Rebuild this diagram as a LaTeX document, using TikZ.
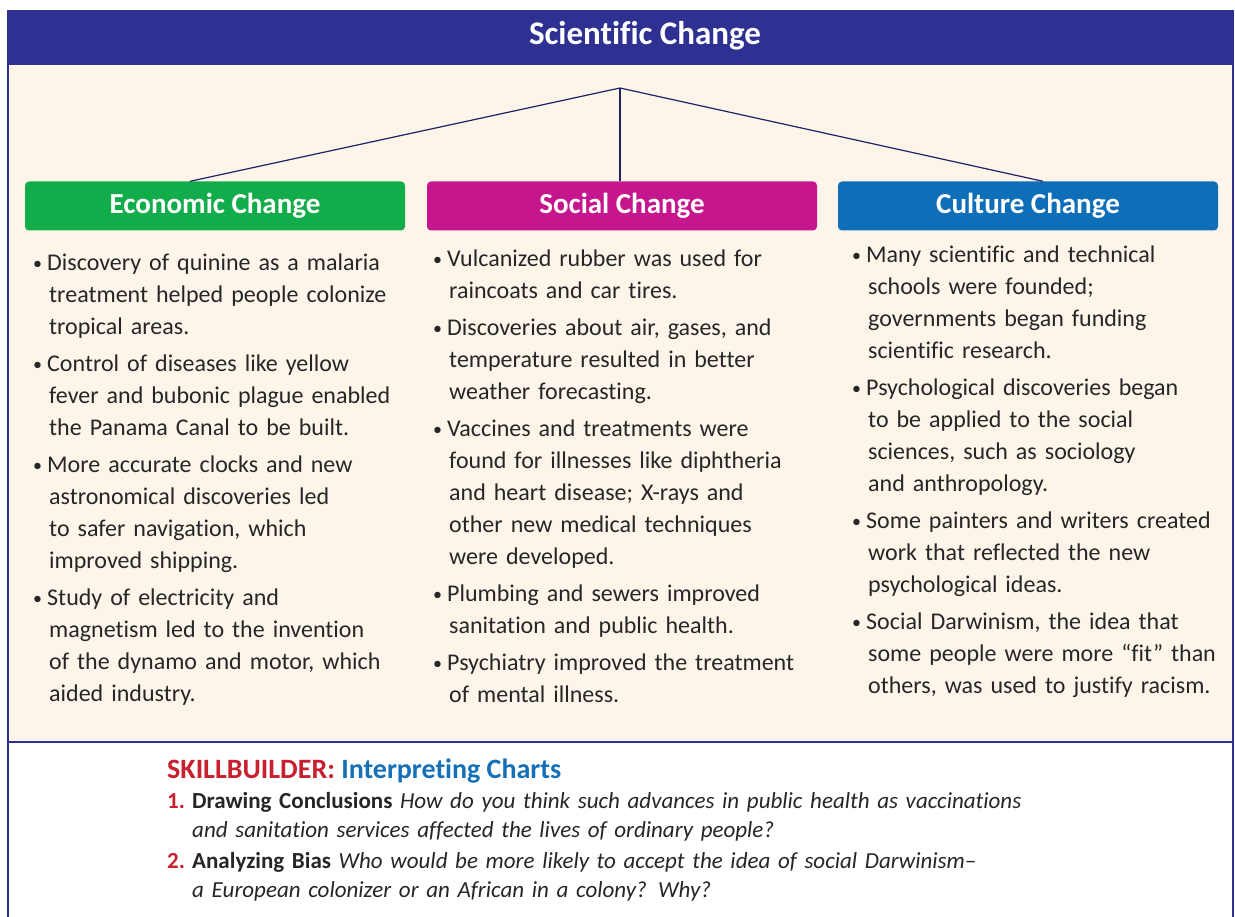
\documentclass[tikz,border=0pt]{standalone}
\usepackage{fontspec}
\setmainfont{Carlito}[Ligatures=NoCommon]
\usepackage{xcolor}
\usetikzlibrary{positioning, calc}
\definecolor{titleblue}{RGB}{46, 49, 146}
\definecolor{creampanel}{RGB}{253, 245, 234}
\definecolor{econgreen}{RGB}{18, 173, 74}
\definecolor{socialpink}{RGB}{198, 22, 141}
\definecolor{cultureblue}{RGB}{15, 110, 184}
\definecolor{skillred}{RGB}{200, 32, 47}
\definecolor{skillblue}{RGB}{21, 112, 184}
\newcommand{\bitem}[1]{\par\hangindent=16pt\hangafter=1\noindent
    \makebox[14pt][l]{\raisebox{1pt}{\scalebox{0.75}{\textbullet}}}#1}

\begin{document}
\begin{tikzpicture}[x=1pt, y=-1pt,
    header/.style={rounded corners=4pt, minimum height=49pt,
        text=white, font=\fontsize{29}{32}\selectfont\bfseries, inner sep=0pt},
    column/.style={anchor=north west, text width=390pt, inner sep=0pt,
        font=\fontsize{24}{32}\selectfont, text=black!85},
    link/.style={draw=titleblue!70!black, line width=1.2pt}]
    % Page and panels
    \useasboundingbox (0,0) rectangle (1235,917);
    \fill[white] (0,0) rectangle (1235,917);
    \fill[creampanel] (8,65) rectangle (1233,742);
    \fill[titleblue] (8,10) rectangle (1233,65);
    \draw[titleblue, line width=2pt] (8,10) -- (8,917);
    \draw[titleblue, line width=2pt] (1233,10) -- (1233,917);
    \draw[titleblue, line width=2pt] (8,742) -- (1233,742);
    \node[text=white, font=\fontsize{33}{36}\selectfont\bfseries] (title) at (645,36) {Scientific Change};

    % The three headers
    \coordinate (hub) at (620,88);
    \node[header, fill=econgreen, minimum width=380pt] (econ) at (215,206) {Economic Change};
    \node[header, fill=socialpink, minimum width=390pt] (social) at (622,206) {Social Change};
    \node[header, fill=cultureblue, minimum width=380pt] (culture) at (1028,206) {Culture Change};
    \draw[link] (hub) -- ($(econ.north)+(-25,0)$);
    \draw[link] (hub) -- ($(social.north)+(-2,0)$);
    \draw[link] (hub) -- ($(culture.north)+(15,0)$);

    % The bullet lists
    \node[column] (econlist) at (33,233) {\raggedright
        \parskip=5pt
        \bitem{Discovery of quinine as a malaria\newline treatment helped people colonize\newline tropical areas.}
        \bitem{Control of diseases like yellow\newline fever and bubonic plague enabled\newline the Panama Canal to be built.}
        \bitem{More accurate clocks and new\newline astronomical discoveries led\newline to safer navigation, which\newline improved shipping.}
        \bitem{Study of electricity and\newline magnetism led to the invention\newline of the dynamo and motor, which\newline aided industry.}\par};
    \node[column] (sociallist) at (433,229) {\raggedright
        \parskip=5pt
        \bitem{Vulcanized rubber was used for\newline raincoats and car tires.}
        \bitem{Discoveries about air, gases, and\newline temperature resulted in better\newline weather forecasting.}
        \bitem{Vaccines and treatments were\newline found for illnesses like diphtheria\newline and heart disease; X-rays and\newline other new medical techniques\newline were developed.}
        \bitem{Plumbing and sewers improved\newline sanitation and public health.}
        \bitem{Psychiatry improved the treatment\newline of mental illness.}\par};
    \node[column] (culturelist) at (852,225) {\raggedright
        \parskip=5pt
        \bitem{Many scientific and technical\newline schools were founded;\newline governments began funding\newline scientific research.}
        \bitem{Psychological discoveries began\newline to be applied to the social\newline sciences, such as sociology\newline and anthropology.}
        \bitem{Some painters and writers created\newline work that reflected the new\newline psychological ideas.}
        \bitem{Social Darwinism, the idea that\newline some people were more “fit” than\newline others, was used to justify racism.}\par};

    % Skillbuilder
    \node[anchor=west, inner sep=0pt, font=\fontsize{28}{30}\selectfont\bfseries] (skill) at (167,771)
        {\textcolor{skillred}{SKILLBUILDER:} \textcolor{skillblue}{Interpreting Charts}};
    \node[anchor=north west, inner sep=0pt, text width=950pt,
        font=\fontsize{23}{29}\selectfont, text=black!85] (questions) at (167,792) {\raggedright
        \parskip=2pt
        \hangindent=25pt\hangafter=1\noindent\makebox[25pt][l]{\textcolor{skillred}{\bfseries 1.}}\textbf{Drawing Conclusions} \textit{How do you think such advances in public health as vaccinations\newline and sanitation services affected the lives of ordinary people?}\par
        \hangindent=25pt\hangafter=1\noindent\makebox[25pt][l]{\textcolor{skillred}{\bfseries 2.}}\textbf{Analyzing Bias} \textit{Who would be more likely to accept the idea of social Darwinism–\newline a European colonizer or an African in a colony? Why?}\par};
\end{tikzpicture}
\end{document}
